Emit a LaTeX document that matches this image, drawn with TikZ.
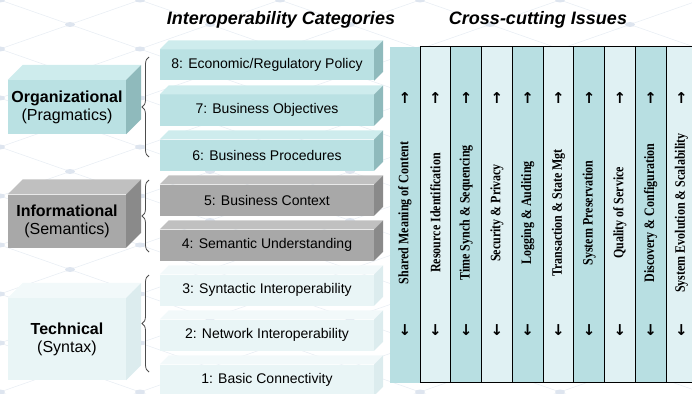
\documentclass[tikz,border=0pt]{standalone}
\usepackage{fontspec}
\setmainfont{Liberation Sans}
\newfontfamily\colfont{Liberation Serif}
\newfontfamily\tipfont{DejaVu Sans}
\usetikzlibrary{decorations.pathreplacing}

\definecolor{seafront}{RGB}{186,225,227}
\definecolor{seatop}{RGB}{206,236,237}
\definecolor{seaside}{RGB}{143,186,188}
\definecolor{ashfront}{RGB}{168,168,168}
\definecolor{ashtop}{RGB}{192,192,192}
\definecolor{ashside}{RGB}{138,138,138}
\definecolor{mistfront}{RGB}{233,245,246}
\definecolor{misttop}{RGB}{242,249,250}
\definecolor{mistside}{RGB}{220,236,238}
\definecolor{coldark}{RGB}{184,223,226}
\definecolor{collight}{RGB}{224,241,243}
\definecolor{netline}{RGB}{233,238,244}
\definecolor{netdot}{RGB}{222,229,239}

% top and side faces of a block whose front is node #1
\newcommand{\boxfaces}[3]{%
  \fill[#3top] (#1.north west) -- ++(#2,-#2) -- ([shift={(#2,-#2)}]#1.north east) -- (#1.north east) -- cycle;
  \fill[#3side] (#1.north east) -- ++(#2,-#2) -- ([shift={(#2,-#2)}]#1.south east) -- (#1.south east) -- cycle;}
% column labels are a bit condensed
\newcommand{\tall}[1]{\scalebox{1}[1.2]{#1}}

\begin{document}
\begin{tikzpicture}[x=1pt,y=-1pt,
  layer/.style={minimum width=214pt,minimum height=31pt,inner sep=0pt,font=\fontsize{14}{16}\selectfont},
  family/.style={minimum width=118pt,inner sep=0pt,align=center,font=\fontsize{16}{18}\selectfont},
  issue/.style={minimum width=30.75pt,minimum height=335pt,inner sep=0pt,draw=black,line width=1pt},
  issuetext/.style={rotate=90,font=\colfont\bfseries\fontsize{12}{14}\selectfont},
  tip/.style={font=\tipfont\bfseries\fontsize{15}{16}\selectfont},
  curly/.style={decorate,decoration={brace,amplitude=7pt},draw=black!70,thick},
  title/.style={font=\bfseries\itshape\fontsize{18}{20}\selectfont}]
\useasboundingbox (0,0) rectangle (692,393);

% faint network in the back
\begin{scope}
\clip (0,0) rectangle (692,393);
\foreach \k in {-9,...,13}
  \draw[netline,line width=.6pt] (\k*140,0) -- ++(1400,490) (\k*140,0) -- ++(-1400,490);
\foreach \a in {0,2,...,10} \foreach \b in {0,2,...,16}
  \fill[netdot] (\a*70,\b*24.5) ellipse (5 and 2.5);
\foreach \a in {1,3,...,9} \foreach \b in {1,3,...,15}
  \fill[netdot] (\a*70,\b*24.5) ellipse (5 and 2.5);
\end{scope}

% titles
\node[title] (cats) at (281,20) {Interoperability Categories};
\node[title] (issues) at (538,20) {Cross-cutting Issues};

% the three families
\node[family,fill=seafront,minimum height=54pt] (org) at (67,107) {\textbf{Organizational}\\(Pragmatics)};
\boxfaces{org}{15}{sea}
\node[family,fill=ashfront,minimum height=53pt] (info) at (67,221) {\textbf{Informational}\\(Semantics)};
\boxfaces{info}{15}{ash}
\node[family,fill=mistfront,minimum height=82pt] (tech) at (67,339) {\textbf{Technical}\\(Syntax)};
\boxfaces{tech}{15}{mist}

% the eight layers
\node[layer,fill=seafront] (l8) at (267,65) {8: Economic/Regulatory Policy};
\node[layer,fill=seafront] (l7) at (267,110) {7: Business Objectives};
\node[layer,fill=seafront] (l6) at (267,155) {6: Business Procedures};
\node[layer,fill=ashfront] (l5) at (267,200) {5: Business Context};
\node[layer,fill=ashfront] (l4) at (267,245) {4: Semantic Understanding};
\node[layer,fill=mistfront] (l3) at (267,290) {3: Syntactic Interoperability};
\node[layer,fill=mistfront] (l2) at (267,335) {2: Network Interoperability};
\node[layer,fill=mistfront] (l1) at (267,380) {1: Basic Connectivity};
\foreach \n in {8,7,6} {\boxfaces{l\n}{9}{sea}}
\foreach \n in {5,4} {\boxfaces{l\n}{9}{ash}}
\foreach \n in {3,2,1} {\boxfaces{l\n}{9}{mist}}

% braces
\coordinate (orgtop) at (149,57);
\coordinate (orgbot) at (149,157);
\coordinate (infotop) at (149,180);
\coordinate (infobot) at (149,252);
\coordinate (techtop) at (149,275);
\coordinate (techbot) at (149,372);
\draw[curly] (orgbot) -- (orgtop);
\draw[curly] (infobot) -- (infotop);
\draw[curly] (techbot) -- (techtop);

% cross-cutting columns
\node[issue,draw=none,fill=coldark,minimum width=30pt,minimum height=336pt] (c1) at (405,215) {};
\node[issuetext] (t1) at (405,213) {\tall{Shared Meaning of Content}};
\node[tip] (u1) at (405,98) {↑};
\node[tip] (d1) at (405,330) {↓};
\foreach \what [count=\i from 2, evaluate=\i as \cx using 435.375+(\i-2)*30.75] in
  {Resource Identification, Time Synch \& Sequencing, Security \& Privacy,
   Logging \& Auditing, Transaction \& State Mgt, System Preservation,
   Quality of Service, Discovery \& Configuration, System Evolution \& Scalability} {
  \ifodd\i \def\shade{coldark}\else \def\shade{collight}\fi
  \node[issue,fill=\shade] (c\i) at (\cx,214.5) {};
  \node[issuetext] (t\i) at (\cx,213) {\tall{\what}};
  \node[tip] (u\i) at (\cx,98) {↑};
  \node[tip] (d\i) at (\cx,330) {↓};
}
\end{tikzpicture}
\end{document}
